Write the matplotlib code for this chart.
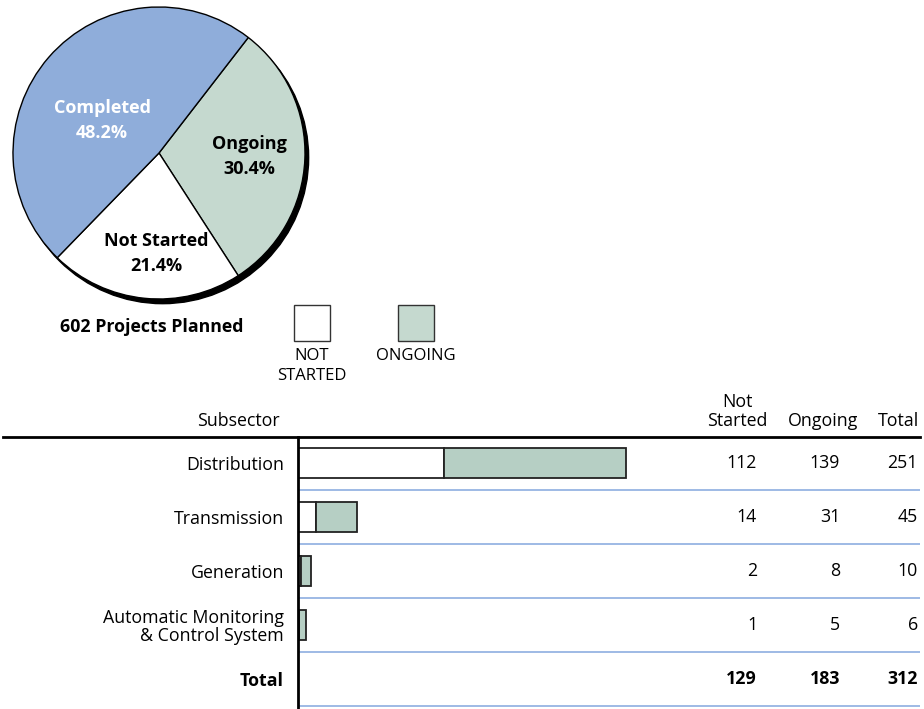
import matplotlib
matplotlib.use("Agg")
import numpy as np
import matplotlib.pyplot as plt
from matplotlib.patches import Rectangle, Circle

plt.rcParams['font.family'] = ['Open Sans', 'DejaVu Sans']

# pie data
pie_labels = ['Ongoing', 'Not Started', 'Completed']
pie_shares = [30.4, 21.4, 48.2]
total_planned = 602

# table data
subsectors = ['Distribution', 'Transmission', 'Generation',
              'Automatic Monitoring\n& Control System']
not_started = [112, 14, 2, 1]
ongoing = [139, 31, 8, 5]
totals = [251, 45, 10, 6]

W, H = 924, 709
BLUE = '#8fadda'
GREEN_PIE = '#c5d9cf'
GREEN_BAR = '#b6cfc4'
RULE = '#8eaee0'


def px_rect(x0, y0, x1, y1):
    # caja en pixeles (origen arriba-izq) -> fraccion de figura
    return [x0 / W, 1 - y1 / H, (x1 - x0) / W, (y1 - y0) / H]


def dibujar_pie(fig):
    cx, cy, r = 159, 153, 146
    ext = 1.05
    ax = fig.add_axes(px_rect(cx - r * ext, cy - r * ext, cx + r * ext, cy + r * ext))
    colors = [GREEN_PIE, 'white', BLUE]
    # sombra
    ax.add_patch(Circle((0.025, -0.032), 1.0, color='black', zorder=0))
    wedges, _ = ax.pie(pie_shares, colors=colors, startangle=52.3, counterclock=False,
                       wedgeprops=dict(edgecolor='black', linewidth=1.0))
    for w in wedges:
        w.set_zorder(1)
    dist = [0.62, 0.69, 0.45]
    offs = [0, 4, 11]
    txt_col = ['black', 'black', 'white']
    for w, lab, val, d, o, c in zip(wedges, pie_labels, pie_shares, dist, offs, txt_col):
        ang = np.deg2rad((w.theta1 + w.theta2) / 2 + o)
        ax.text(d * np.cos(ang), d * np.sin(ang), f"{lab}\n{val:.1f}%",
                ha='center', va='center', fontsize=13, fontweight='bold',
                color=c, linespacing=1.5, zorder=3)
    ax.set_xlim(-ext, ext)
    ax.set_ylim(-ext, ext)
    ax.set_aspect('equal')
    ax.axis('off')


def dibujar_leyenda(fig):
    fig.text(60 / W, 1 - 327 / H, f"{total_planned} Projects Planned", fontsize=12.8,
             fontweight='bold', ha='left', va='center')
    for x0, col, lab in [(294, 'white', 'NOT\nSTARTED'), (398, GREEN_PIE, 'ONGOING')]:
        fig.patches.append(Rectangle((x0 / W, 1 - 341 / H), 36 / W, 36 / H,
                                     transform=fig.transFigure, facecolor=col,
                                     edgecolor='#333333', linewidth=1.0))
        fig.text((x0 + 18) / W, 1 - 348 / H, lab, fontsize=12, ha='center', va='top',
                 linespacing=1.3)


def dibujar_tabla(fig):
    ax = fig.add_axes(px_rect(298, 437, 920, 709))
    scale = (626 - 298) / 251.0
    ax.set_xlim(0, 622 / scale)
    row_h = 54.0
    ax.set_ylim((709 - 463) / row_h, (437 - 463) / row_h)

    ys = list(range(len(subsectors)))
    ax.barh(ys, not_started, height=0.56, color='white', edgecolor='#222222', linewidth=1.3)
    ax.barh(ys, ongoing, left=not_started, height=0.56, color=GREEN_BAR,
            edgecolor='#222222', linewidth=1.3)

    for i in range(len(subsectors) + 1):
        ax.axhline(i + 0.5, color=RULE, linewidth=1.2)

    ax.set_yticks(list(range(len(subsectors) + 1)))
    ax.set_yticklabels(subsectors + ['Total'], fontsize=12.8, linespacing=1.0)
    ax.get_yticklabels()[-1].set_fontweight('bold')
    ax.tick_params(axis='y', length=0, pad=10)
    ax.set_xticks([])
    for s in ['top', 'right', 'bottom']:
        ax.spines[s].set_visible(False)
    ax.spines['left'].set_linewidth(2)
    ax.spines['left'].set_color('black')

    tr = ax.get_yaxis_transform()
    cols = [(757 - 298) / 622, (840 - 298) / 622, (918 - 298) / 622]
    rows = list(zip(not_started, ongoing, totals))
    rows.append((sum(not_started), sum(ongoing), sum(totals)))
    for i, vals in enumerate(rows):
        bold = i == len(rows) - 1
        for xc, v in zip(cols, vals):
            ax.text(xc, i, str(v), transform=tr, ha='right', va='center', fontsize=12.8,
                    fontweight='bold' if bold else 'normal')

    # encabezados
    hy = (430 - 463) / row_h
    ax.text((238 - 298) / 622, hy, 'Subsector', transform=tr, ha='center', va='bottom',
            fontsize=12.8)
    for xc, lab in [(737, 'Not\nStarted'), (823, 'Ongoing'), (899, 'Total')]:
        ax.text((xc - 298) / 622, hy, lab, transform=tr, ha='center', va='bottom',
                fontsize=12.8, linespacing=1.05)

    # linea gruesa bajo encabezado
    ax.plot([(3 - 298) / 622, 1], [1, 1], transform=ax.transAxes, color='black',
            linewidth=2, clip_on=False)


def main():
    fig = plt.figure(figsize=(W / 100, H / 100), dpi=100)
    dibujar_pie(fig)
    dibujar_leyenda(fig)
    dibujar_tabla(fig)
    fig.savefig('out.png', dpi=100, facecolor='white')
    plt.close(fig)


if __name__ == "__main__":
    main()
